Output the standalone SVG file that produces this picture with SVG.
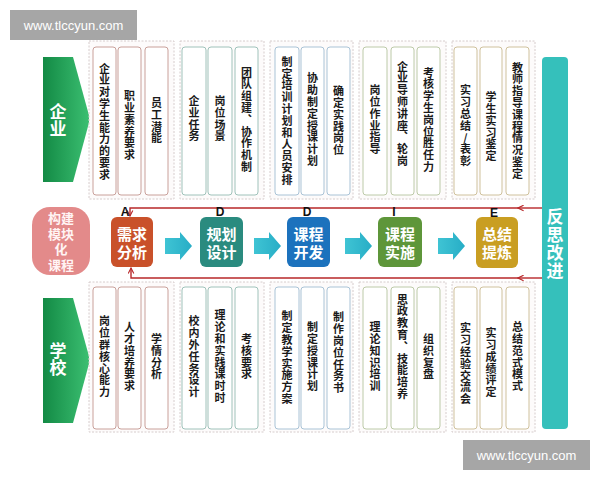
<svg xmlns="http://www.w3.org/2000/svg" width="600" height="480" viewBox="0 0 600 480">
<style>
.wm{fill:#a6a6a6}
.wmt{font-family:"Liberation Sans",Arial,sans-serif;font-size:13px;fill:#ffffff;text-anchor:middle}
.grp{fill:#fdfbfb;stroke:#d6cccc;stroke-width:1;stroke-dasharray:2 1.5}
.b1{fill:#fff;stroke:#c9a09a;stroke-width:1}
.b2{fill:#fff;stroke:#9fc2ba;stroke-width:1}
.b3{fill:#fff;stroke:#a9c3d6;stroke-width:1}
.b4{fill:#fff;stroke:#bccaa8;stroke-width:1}
.b5{fill:#fff;stroke:#cfc19c;stroke-width:1}
.v{font-family:"Noto Sans CJK SC","Noto Sans",sans-serif;font-size:11px;font-weight:700;fill:#1a1a1a;text-anchor:middle;writing-mode:vertical-rl;text-orientation:upright;letter-spacing:0.8px}
.pt{font-family:"Liberation Sans","Noto Sans CJK SC",sans-serif;font-size:15px;font-weight:700;fill:#ffffff;text-anchor:middle}
.side{font-family:"Noto Sans CJK SC",sans-serif;font-size:17px;font-weight:700;fill:#ffffff;text-anchor:middle;writing-mode:vertical-rl;text-orientation:upright}
.pk{font-family:"Liberation Sans","Noto Sans CJK SC",sans-serif;font-size:13px;font-weight:700;fill:#fff4f4;text-anchor:middle}
.lt{font-family:"Liberation Sans",Arial,sans-serif;font-size:12px;font-weight:700;fill:#111;text-anchor:middle}
.red{fill:none;stroke:#b8282a;stroke-width:1.4}
.cy{fill:url(#cyg)}
</style>
<defs>
<linearGradient id="gg" x1="0" y1="0" x2="1" y2="0">
<stop offset="0" stop-color="#138a45"/>
<stop offset="1" stop-color="#3cc072"/>
</linearGradient>
<linearGradient id="cyg" x1="0" y1="0" x2="1" y2="0">
<stop offset="0" stop-color="#3fc4d4"/>
<stop offset="1" stop-color="#27adc6"/>
</linearGradient>
<marker id="ah" viewBox="0 0 10 10" refX="9" refY="5" markerWidth="7" markerHeight="7" orient="auto" markerUnits="userSpaceOnUse">
<path d="M1,1 L9,5 L1,9" fill="none" stroke="#b8282a" stroke-width="1.6"/>
</marker>
</defs>
<rect width="600" height="480" fill="#ffffff"/>

<!-- watermarks -->
<g id="wm1"><rect class="wm" x="10" y="10" width="127" height="30"/><text class="wmt" x="73.5" y="30">www.tlccyun.com</text></g>
<g id="wm2"><rect class="wm" x="463" y="440" width="127" height="30"/><text class="wmt" x="526.5" y="460">www.tlccyun.com</text></g>

<!-- side arrows -->
<g id="qiye">
<path d="M43,57 L73,57 L90,119 L73,182 L43,182 Z" fill="url(#gg)"/>
<text class="side" x="58" y="120.5">企业</text>
</g>
<g id="xuexiao">
<path d="M43,298 L73,298 L90,360 L73,423 L43,423 Z" fill="url(#gg)"/>
<text class="side" x="58" y="359">学校</text>
</g>

<!-- right bar -->
<g id="fansi">
<rect x="542" y="57" width="26" height="372" rx="4" fill="#35c0bb"/>
<text class="side" x="555" y="244" style="letter-spacing:1px">反思改进</text>
</g>

<!-- left pink -->
<g id="goujian">
<rect x="32" y="207" width="58" height="68" rx="18" fill="#e38a8a"/>
<text class="pk" x="61" y="223">构建</text><text class="pk" x="61" y="238.5">模块</text><text class="pk" x="61" y="254">化</text><text class="pk" x="61" y="269.5">课程</text>
</g>

<!-- top groups -->
<g id="top1">
<rect class="grp" x="89" y="41" width="85" height="158"/>
<rect class="b1" x="93" y="47" width="23" height="148" rx="3"/>
<rect class="b1" x="118" y="47" width="23" height="148" rx="3"/>
<rect class="b1" x="145" y="47" width="23" height="148" rx="3"/>
<text class="v" x="104.5" y="122">企业对学生能力的要求</text>
<text class="v" x="129.5" y="126">职业素养要求</text>
<text class="v" x="156.5" y="121">员工潜能</text>
</g>
<g id="top2">
<rect class="grp" x="180" y="41" width="84" height="158"/>
<rect class="b2" x="182" y="47" width="24" height="148" rx="3"/>
<rect class="b2" x="208" y="47" width="24" height="148" rx="3"/>
<rect class="b2" x="235" y="47" width="23" height="148" rx="3"/>
<text class="v" x="194" y="119">企业任务</text>
<text class="v" x="220" y="119">岗位场景</text>
<text class="v" x="246.5" y="120">团队组建、协作机制</text>
</g>
<g id="top3">
<rect class="grp" x="270" y="41" width="83" height="158"/>
<rect class="b3" x="275" y="47" width="24" height="148" rx="3"/>
<rect class="b3" x="301" y="47" width="23" height="148" rx="3"/>
<rect class="b3" x="327" y="47" width="23" height="148" rx="3"/>
<text class="v" x="287" y="121">制定培训计划和人员安排</text>
<text class="v" x="312.5" y="120">协助制定授课计划</text>
<text class="v" x="338.5" y="121">确定实践岗位</text>
</g>
<g id="top4">
<rect class="grp" x="359" y="41" width="87" height="158"/>
<rect class="b4" x="363" y="47" width="24" height="148" rx="3"/>
<rect class="b4" x="391" y="47" width="23" height="148" rx="3"/>
<rect class="b4" x="417" y="47" width="23" height="148" rx="3"/>
<text class="v" x="375" y="120">岗位作业指导</text>
<text class="v" x="402.5" y="114">企业导师讲座、轮岗</text>
<text class="v" x="428.5" y="120">考核学生岗位胜任力</text>
</g>
<g id="top5">
<rect class="grp" x="452" y="41" width="83" height="158"/>
<rect class="b5" x="454" y="47" width="23" height="148" rx="3"/>
<rect class="b5" x="480" y="47" width="22" height="148" rx="3"/>
<rect class="b5" x="506" y="47" width="23" height="148" rx="3"/>
<text class="v" x="465.5" y="126">实习总结/表彰</text>
<text class="v" x="491" y="127">学生实习鉴定</text>
<text class="v" x="517.5" y="121">教师指导课程情况鉴定</text>
</g>

<!-- bottom groups -->
<g id="bot1">
<rect class="grp" x="89" y="282" width="85" height="150"/>
<rect class="b1" x="93" y="287" width="23" height="142" rx="3"/>
<rect class="b1" x="118" y="287" width="23" height="142" rx="3"/>
<rect class="b1" x="145" y="287" width="23" height="142" rx="3"/>
<text class="v" x="104.5" y="357">岗位群核心能力</text>
<text class="v" x="129.5" y="357">人才培养要求</text>
<text class="v" x="156.5" y="357">学情分析</text>
</g>
<g id="bot2">
<rect class="grp" x="180" y="282" width="84" height="150"/>
<rect class="b2" x="182" y="287" width="24" height="142" rx="3"/>
<rect class="b2" x="208" y="287" width="24" height="142" rx="3"/>
<rect class="b2" x="235" y="287" width="23" height="142" rx="3"/>
<text class="v" x="194" y="357">校内外任务设计</text>
<text class="v" x="220" y="357">理论和实践课时时</text>
<text class="v" x="246.5" y="357">考核要求</text>
</g>
<g id="bot3">
<rect class="grp" x="270" y="282" width="83" height="150"/>
<rect class="b3" x="275" y="287" width="24" height="142" rx="3"/>
<rect class="b3" x="301" y="287" width="23" height="142" rx="3"/>
<rect class="b3" x="327" y="287" width="23" height="142" rx="3"/>
<text class="v" x="287" y="358">制定教学实施方案</text>
<text class="v" x="312.5" y="357">制定授课计划</text>
<text class="v" x="338.5" y="353">制作岗位任务书</text>
</g>
<g id="bot4">
<rect class="grp" x="359" y="282" width="87" height="150"/>
<rect class="b4" x="363" y="287" width="24" height="142" rx="3"/>
<rect class="b4" x="391" y="287" width="23" height="142" rx="3"/>
<rect class="b4" x="417" y="287" width="23" height="142" rx="3"/>
<text class="v" x="375" y="357">理论知识培训</text>
<text class="v" x="402.5" y="347">思政教育、技能培养</text>
<text class="v" x="428.5" y="357">组织复盘</text>
</g>
<g id="bot5">
<rect class="grp" x="452" y="282" width="83" height="150"/>
<rect class="b5" x="454" y="287" width="23" height="142" rx="3"/>
<rect class="b5" x="480" y="287" width="22" height="142" rx="3"/>
<rect class="b5" x="506" y="287" width="23" height="142" rx="3"/>
<text class="v" x="465.5" y="364">实习经验交流会</text>
<text class="v" x="491" y="363">实习成绩评定</text>
<text class="v" x="517.5" y="357">总结范式模式</text>
</g>

<!-- connectors -->
<g id="connectors">
<path class="red" d="M542,208 L518,208" marker-end="url(#ah)"/>
<path class="red" d="M518,208 L130,208 L130,216" marker-end="url(#ah)"/>
<path class="red" d="M542,278 L518,278" marker-end="url(#ah)"/>
<path class="red" d="M518,278 L131,278 L131,268" marker-end="url(#ah)"/>
<path class="cy" d="M165,238 L180,238 L180,232 L192,246 L180,260 L180,254 L165,254 Z"/>
<path class="cy" d="M254,238 L269,238 L269,232 L281,246 L269,260 L269,254 L254,254 Z"/>
<path class="cy" d="M345,238 L360,238 L360,232 L372,246 L360,260 L360,254 L345,254 Z"/>
<path class="cy" d="M438,238 L453,238 L453,232 L465,246 L453,260 L453,254 L438,254 Z"/>
</g>

<!-- process nodes -->
<g id="xuqiu">
<rect x="111" y="217" width="42" height="50" rx="6" fill="#c9512a"/>
<text class="pt" x="132" y="240">需求</text><text class="pt" x="132" y="258">分析</text>
<text class="lt" x="125" y="216">A</text>
</g>
<g id="guihua">
<rect x="200" y="217" width="43" height="50" rx="6" fill="#2a8b7f"/>
<text class="pt" x="221.5" y="240">规划</text><text class="pt" x="221.5" y="258">设计</text>
<text class="lt" x="220" y="216">D</text>
</g>
<g id="kaifa">
<rect x="287" y="217" width="43" height="50" rx="6" fill="#1c72bd"/>
<text class="pt" x="308.5" y="240">课程</text><text class="pt" x="308.5" y="258">开发</text>
<text class="lt" x="307" y="216">D</text>
</g>
<g id="shishi">
<rect x="378" y="217" width="44" height="50" rx="6" fill="#5e963a"/>
<text class="pt" x="400" y="240">课程</text><text class="pt" x="400" y="258">实施</text>
<text class="lt" x="394" y="216">I</text>
</g>
<g id="zongjie">
<rect x="476" y="217" width="42" height="51" rx="6" fill="#c99e22"/>
<text class="pt" x="497" y="240">总结</text><text class="pt" x="497" y="258">提炼</text>
<text class="lt" x="494" y="217">E</text>
</g>
</svg>
